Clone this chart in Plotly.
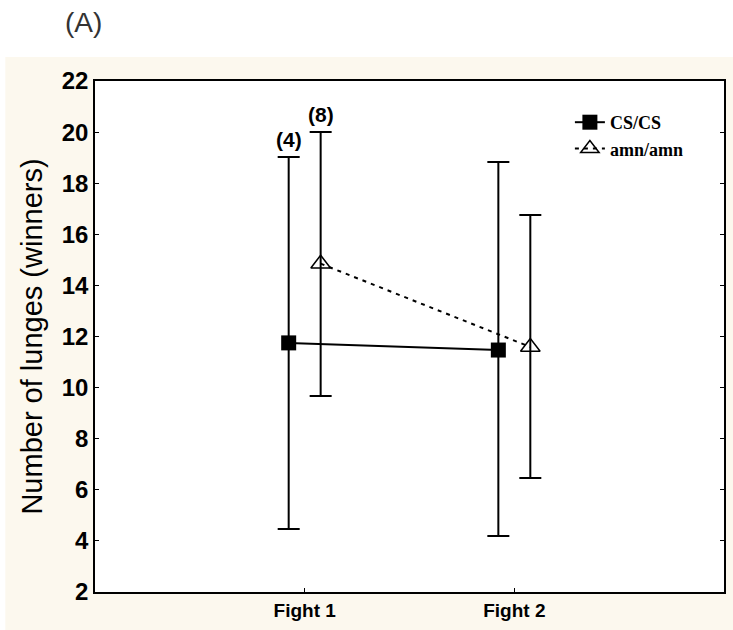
import plotly.graph_objects as go

categories = ["Fight 1", "Fight 2"]
cs_mean = [11.75, 11.47]
cs_low = [4.47, 4.19]
cs_high = [19.03, 18.83]
amn_mean = [14.85, 11.59]
amn_low = [9.67, 6.46]
amn_high = [20.0, 16.76]
n_labels = ["(4)", "(8)"]
y_ticks = [2, 4, 6, 8, 10, 12, 14, 16, 18, 20, 22]

fig = go.Figure()

fig.add_trace(go.Scatter(
    x=categories, y=cs_mean, name="CS/CS", mode="lines+markers",
    offsetgroup="cs",
    line=dict(color="black", width=2),
    marker=dict(symbol="square", size=15, color="black"),
    error_y=dict(type="data", symmetric=False,
                 array=[h - m for h, m in zip(cs_high, cs_mean)],
                 arrayminus=[m - l for m, l in zip(cs_mean, cs_low)],
                 color="black", thickness=2, width=11),
))
fig.add_trace(go.Scatter(
    x=categories, y=amn_mean, name="amn/amn", mode="lines+markers",
    offsetgroup="amn",
    line=dict(color="black", width=2, dash="4px,5px"),
    marker=dict(symbol="triangle-up-open", size=17, color="black",
                line=dict(width=1.5, color="black")),
    error_y=dict(type="data", symmetric=False,
                 array=[h - m for h, m in zip(amn_high, amn_mean)],
                 arrayminus=[m - l for m, l in zip(amn_mean, amn_low)],
                 color="black", thickness=2, width=11),
))

# white strips outside the cream panel
fig.add_shape(type="rect", xref="paper", yref="paper",
              x0=-0.2, x1=1.1, y0=1.047, y1=1.2,
              fillcolor="white", line=dict(width=0), layer="below")
fig.add_shape(type="rect", xref="paper", yref="paper",
              x0=-0.2, x1=-0.1426, y0=-0.1, y1=1.2,
              fillcolor="white", line=dict(width=0), layer="below")

# n labels above first group
fig.add_annotation(x=categories[0], y=cs_high[0], text="<b>" + n_labels[0] + "</b>",
                   showarrow=False, yanchor="bottom", xshift=-16, yshift=4,
                   font=dict(family="Arial", size=21, color="black"))
fig.add_annotation(x=categories[0], y=amn_high[0], text="<b>" + n_labels[1] + "</b>",
                   showarrow=False, yanchor="bottom", xshift=16, yshift=4,
                   font=dict(family="Arial", size=21, color="black"))

fig.add_annotation(x=-0.019, y=1.115, xref="paper", yref="paper", text="(A)",
                   showarrow=False, xanchor="center", yanchor="middle",
                   font=dict(family="Arial", size=28, color="#333333"))

fig.update_layout(
    width=733, height=630,
    margin=dict(l=95, r=7, t=81, b=38),
    paper_bgcolor="#FCF8EE", plot_bgcolor="white",
    scattermode="group", scattergap=0.695,
    showlegend=True,
    legend=dict(x=0.755, y=0.955, xanchor="left", yanchor="top",
                bgcolor="rgba(0,0,0,0)", tracegroupgap=0,
                font=dict(family="Times New Roman, Liberation Serif", size=18,
                          color="black", weight="bold")),
    xaxis=dict(type="category", range=[-1, 2], showgrid=False, zeroline=False,
               showline=True, linecolor="black", linewidth=1.5, mirror=True,
               ticks="inside", ticklen=4, tickcolor="black",
               tickfont=dict(family="Arial", size=19, color="black", weight="bold")),
    yaxis=dict(range=[2, 22], tickvals=y_ticks, showgrid=False, zeroline=False,
               showline=True, linecolor="black", linewidth=1.5, mirror="ticks",
               ticks="inside", ticklen=4, tickcolor="black",
               tickfont=dict(family="Arial", size=24, color="black", weight="bold"),
               title=dict(text="Number of lunges (winners)", standoff=11,
                          font=dict(family="Arial", size=29, color="black"))),
)

fig.write_html("out.html")
